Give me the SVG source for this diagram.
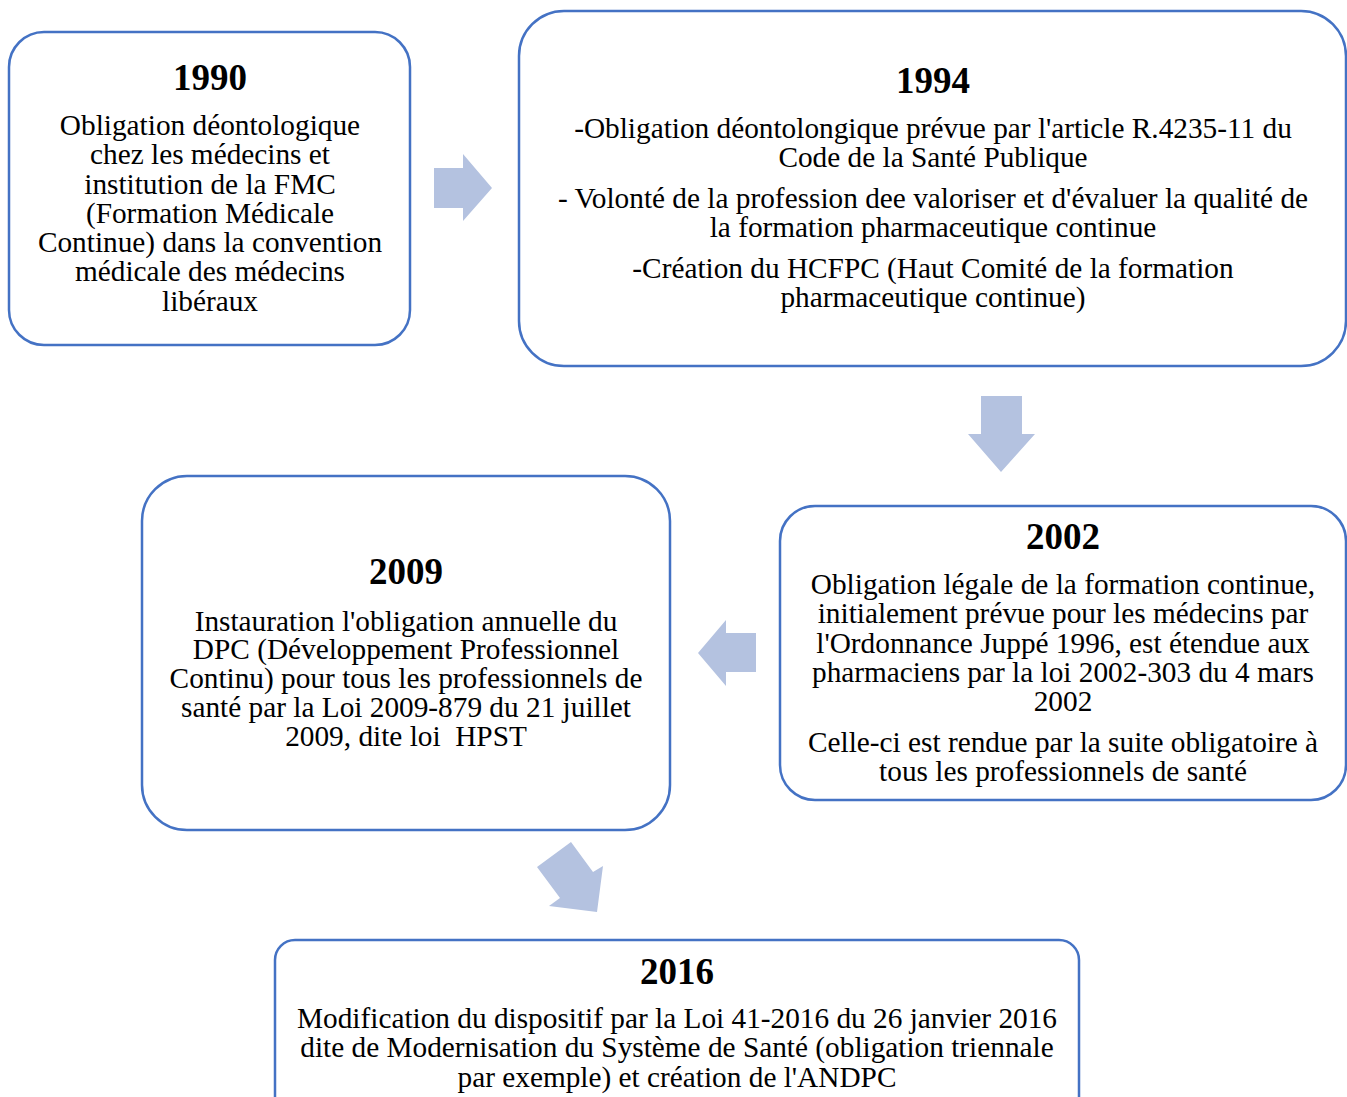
<svg xmlns="http://www.w3.org/2000/svg" width="1347" height="1097" viewBox="0 0 1347 1097">
<style>
.box{fill:#fff;stroke:#4472C4;stroke-width:2.5}
.yr{font-family:"Liberation Serif","Times New Roman",serif;font-weight:bold;font-size:37px;text-anchor:middle;fill:#000}
.t{font-family:"Liberation Serif","Times New Roman",serif;font-size:29.3px;text-anchor:middle;fill:#000}
.arr{fill:#B4C2E0}
</style>
<rect width="1347" height="1097" fill="#fff"/>
<g id="connectors">
<polygon class="arr" points="434,168 463,168 463,154 492,188 463,221 463,208 434,208"/>
<polygon class="arr" points="981,396 1022,396 1022,434 1035,434 1001,472 968,434 981,434"/>
<polygon class="arr" points="756,633 726,633 726,620 698,653 726,686 726,672 756,672"/>
<polygon class="arr" points="537,867 571,842 593,872 603,866 597,912 549,906 560,898"/>
</g>
<g id="n1990">
<rect class="box" x="9" y="32" width="401" height="313" rx="35"/>
<text class="yr" x="210" y="90">1990</text>
<text class="t" x="210" y="135">Obligation déontologique</text>
<text class="t" x="210" y="164">chez les médecins et</text>
<text class="t" x="210" y="194">institution de la FMC</text>
<text class="t" x="210" y="223">(Formation Médicale</text>
<text class="t" x="210" y="252">Continue) dans la convention</text>
<text class="t" x="210" y="281">médicale des médecins</text>
<text class="t" x="210" y="311">libéraux</text>
</g>
<g id="n1994">
<rect class="box" x="519" y="11" width="827" height="355" rx="45"/>
<text class="yr" x="933" y="93">1994</text>
<text class="t" x="933" y="138">-Obligation déontolongique prévue par l'article R.4235-11 du</text>
<text class="t" x="933" y="167">Code de la Santé Publique</text>
<text class="t" x="933" y="208">- Volonté de la profession dee valoriser et d'évaluer la qualité de</text>
<text class="t" x="933" y="237">la formation pharmaceutique continue</text>
<text class="t" x="933" y="278">-Création du HCFPC (Haut Comité de la formation</text>
<text class="t" x="933" y="307">pharmaceutique continue)</text>
</g>
<g id="n2002">
<rect class="box" x="780" y="506" width="566" height="294" rx="35"/>
<text class="yr" x="1063" y="549">2002</text>
<text class="t" x="1063" y="594">Obligation légale de la formation continue,</text>
<text class="t" x="1063" y="623">initialement prévue pour les médecins par</text>
<text class="t" x="1063" y="653">l'Ordonnance Juppé 1996, est étendue aux</text>
<text class="t" x="1063" y="682">pharmaciens par la loi 2002-303 du 4 mars</text>
<text class="t" x="1063" y="711">2002</text>
<text class="t" x="1063" y="752">Celle-ci est rendue par la suite obligatoire à</text>
<text class="t" x="1063" y="781">tous les professionnels de santé</text>
</g>
<g id="n2009">
<rect class="box" x="142" y="476" width="528" height="354" rx="45"/>
<text class="yr" x="406" y="584">2009</text>
<text class="t" x="406" y="631">Instauration l'obligation annuelle du</text>
<text class="t" x="406" y="659">DPC (Développement Professionnel</text>
<text class="t" x="406" y="688">Continu) pour tous les professionnels de</text>
<text class="t" x="406" y="717">santé par la Loi 2009-879 du 21 juillet</text>
<text class="t" x="406" y="746" xml:space="preserve">2009, dite loi  HPST</text>
</g>
<g id="n2016">
<rect class="box" x="275" y="940" width="804" height="180" rx="20"/>
<text class="yr" x="677" y="984">2016</text>
<text class="t" x="677" y="1028">Modification du dispositif par la Loi 41-2016 du 26 janvier 2016</text>
<text class="t" x="677" y="1057">dite de Modernisation du Système de Santé (obligation triennale</text>
<text class="t" x="677" y="1087">par exemple) et création de l'ANDPC</text>
</g>
</svg>
